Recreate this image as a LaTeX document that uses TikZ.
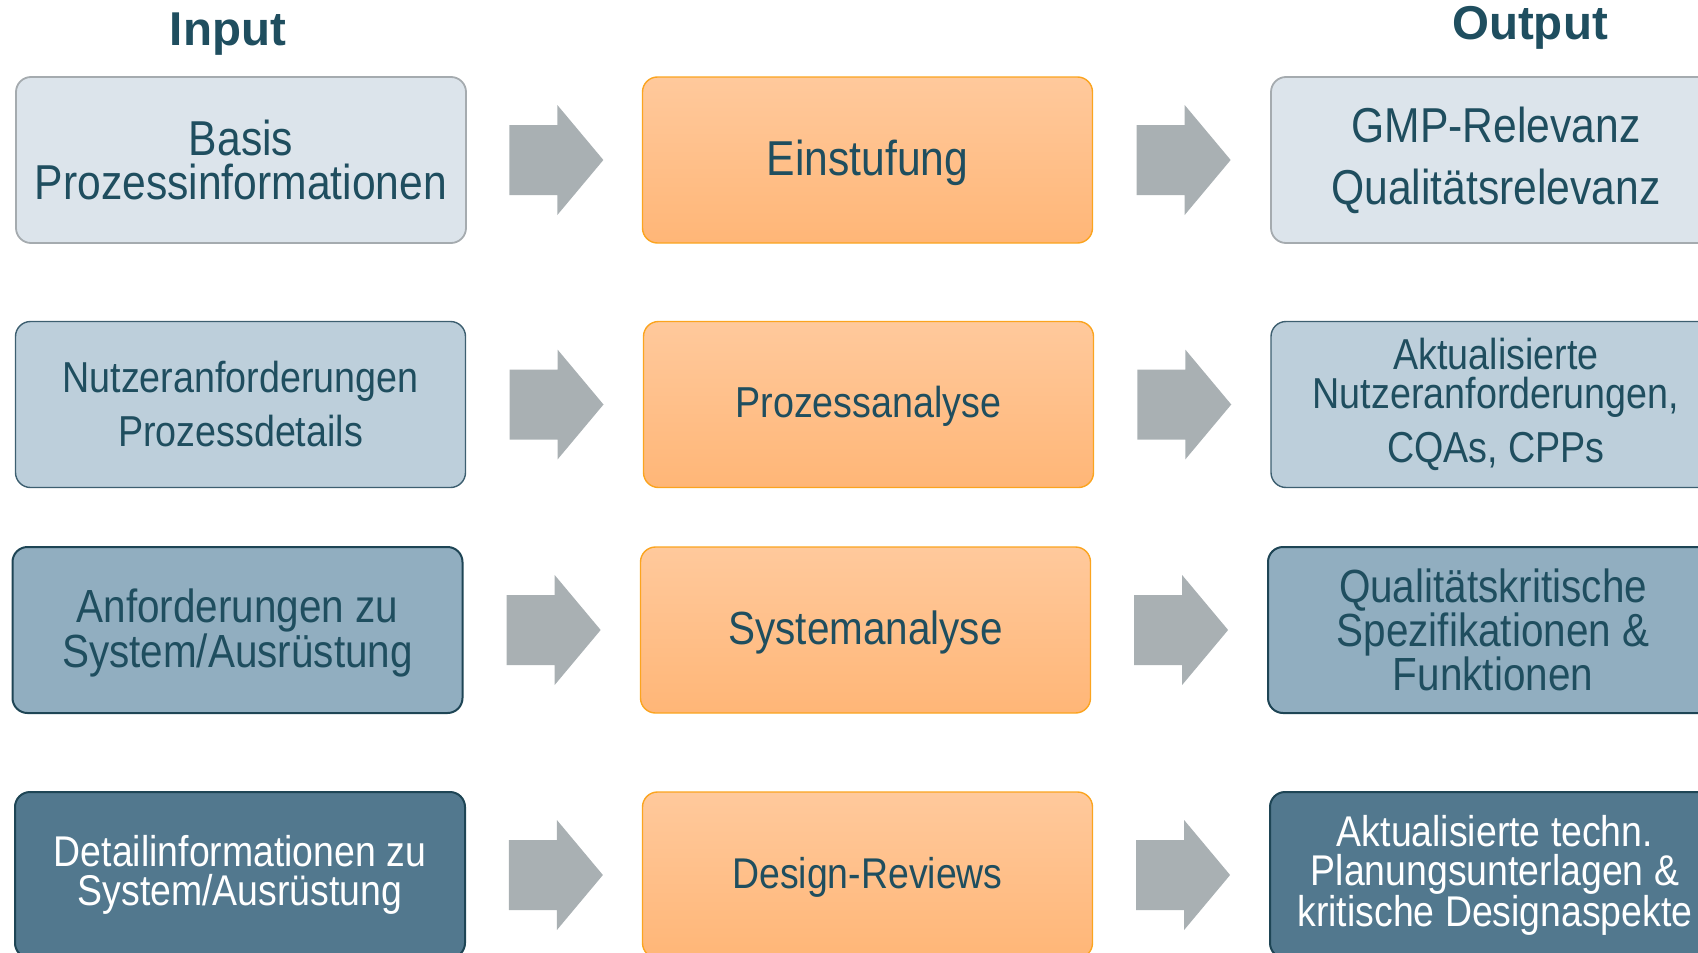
\documentclass[tikz,border=0pt]{standalone}
\usepackage{fontspec}
\setmainfont[FakeStretch=0.87]{Liberation Sans}
\newfontfamily\titlefont{Liberation Sans}
\usetikzlibrary{calc}
\definecolor{txt}{HTML}{1F4E5F}
\definecolor{fillA}{HTML}{DCE4EB}
\definecolor{drawA}{HTML}{A5ABAF}
\definecolor{fillB}{HTML}{BDCFDB}
\definecolor{drawB}{HTML}{3D5F70}
\definecolor{fillC}{HTML}{91AEC0}
\definecolor{drawC}{HTML}{1E4555}
\definecolor{fillD}{HTML}{52788E}
\definecolor{orTop}{HTML}{FFC99C}
\definecolor{orBot}{HTML}{FFB677}
\definecolor{orDraw}{HTML}{FBA41F}
\definecolor{arrGrey}{HTML}{A9B0B3}
\newcommand{\blockarrow}[3]{%
  \coordinate (#3) at ($(#1.east)!0.5!(#2.west)$);
  \fill[arrowfill] ([shift={(-45,-35)}]#3) -- ++(48,0) -- ++(0,-20) -- ++(46,55) -- ++(-46,55) -- ++(0,-20) -- ++(-48,0) -- cycle;}
\newcommand{\lowerby}[2]{\raisebox{-#1}[\height][\depth]{#2}}
\begin{document}
\begin{tikzpicture}[x=1pt,y=-1pt,
  box/.style={rectangle, rounded corners=15pt, minimum width=450pt, minimum height=166pt, align=center, inner sep=0pt, text=txt},
  rowA/.style={box, fill=fillA, draw=drawA, line width=1.8pt, font=\fontsize{49}{44.5}\selectfont},
  rowB/.style={box, fill=fillB, draw=drawB, line width=1.4pt, font=\fontsize{43.3}{54}\selectfont},
  rowC/.style={box, fill=fillC, draw=drawC, line width=2pt, font=\fontsize{46.5}{41.5}\selectfont},
  rowD/.style={box, fill=fillD, draw=drawC, line width=2pt, text=white, font=\fontsize{43}{39}\selectfont},
  midbox/.style={box, top color=orTop, bottom color=orBot, draw=orDraw, line width=1.4pt},
  arrowfill/.style={fill=arrGrey},
  title/.style={text=txt, font=\titlefont\bfseries\fontsize{47.5}{50}\selectfont, inner sep=0pt}]
\path[use as bounding box] (0,0) rectangle (1698,953);
\clip (0,0) rectangle (1698,953);
% titles
\node[title] (tin) at (228,34) {Input};
\node[title] (tout) at (1530,28) {Output};
% row 1
\node[rowA] (l1) at (241,160) {Basis\\Prozessinformationen};
\node[midbox, font=\fontsize{49}{42}\selectfont] (c1) at (867.5,160) {\lowerby{3pt}{Einstufung}};
\node[rowA] (r1) at (1496,160) {GMP-Relevanz\\[17.5pt]Qualitätsrelevanz};
% row 2
\node[rowB] (l2) at (240.5,404.5) {Nutzeranforderungen\\Prozessdetails};
\node[midbox, font=\fontsize{43.3}{54}\selectfont] (c2) at (868.5,404.5) {\lowerby{2pt}{Prozessanalyse}};
\node[rowB, font=\fontsize{43.3}{39}\selectfont] (r2) at (1496,404.5) {Aktualisierte\\Nutzeranforderungen,\\[14pt]CQAs, CPPs};
% row 3
\node[rowC] (l3) at (237.5,630) {\lowerby{3pt}{\parbox{440pt}{\centering Anforderungen zu\\System/Ausrüstung}}};
\node[midbox, font=\fontsize{46.5}{41.5}\selectfont] (c3) at (865.5,630) {\lowerby{2pt}{Systemanalyse}};
\node[rowC, font=\fontsize{46.5}{40.5}\selectfont] (r3) at (1493,630) {Qualitätskritische\\Spezifikationen \&\\Funktionen};
% row 4
\node[rowD] (l4) at (240,875) {Detailinformationen zu\\System/Ausrüstung};
\node[midbox, font=\fontsize{43}{39}\selectfont] (c4) at (867.5,875) {\lowerby{2pt}{Design-Reviews}};
\node[rowD] (r4) at (1495,875) {Aktualisierte techn.\\Planungsunterlagen \&\\kritische Designaspekte};
% arrows
\blockarrow{l1}{c1}{a1}
\blockarrow{c1}{r1}{b1}
\blockarrow{l2}{c2}{a2}
\blockarrow{c2}{r2}{b2}
\blockarrow{l3}{c3}{a3}
\blockarrow{c3}{r3}{b3}
\blockarrow{l4}{c4}{a4}
\blockarrow{c4}{r4}{b4}
\end{tikzpicture}
\end{document}
